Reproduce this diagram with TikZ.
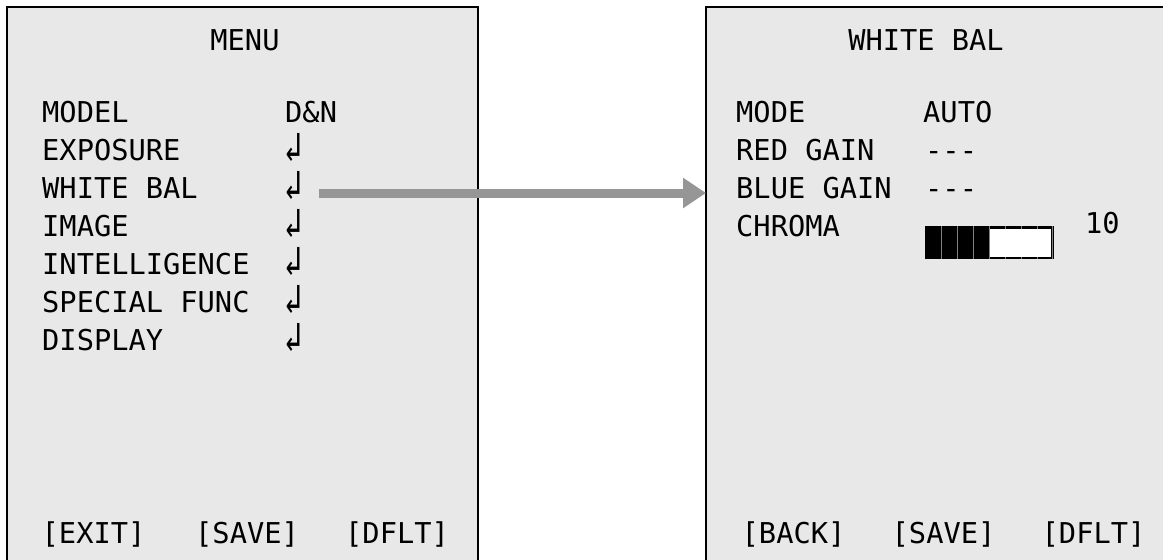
\documentclass[tikz,border=0pt]{standalone}
\usepackage{fontspec}
\setmonofont{DejaVu Sans Mono}
\newfontfamily\symfont{DejaVu Sans Mono}
\usetikzlibrary{arrows.meta}
\definecolor{panelgray}{RGB}{232,232,232}
\definecolor{arrowgray}{RGB}{150,150,150}
\newcommand{\entersym}{\smash{\scalebox{1.05}[1.45]{↲}}}
\begin{document}
\begin{tikzpicture}[x=1pt,y=-1pt,
  panel/.style={draw=black, line width=2.8pt, fill=panelgray},
  txt/.style={anchor=base west, inner sep=0pt, font=\ttfamily\fontsize{28.7}{34}\selectfont},
  ttl/.style={anchor=base, inner sep=0pt, font=\ttfamily\fontsize{28.7}{34}\selectfont},
  enter/.style={anchor=base west, inner sep=0pt, font=\symfont\fontsize{28.7}{34}\selectfont},
  link/.style={draw=arrowgray, line width=9pt, -{Triangle[length=23pt, width=29pt]}}]
\useasboundingbox (0,0) rectangle (1163,560);
\clip (0,0) rectangle (1163,560);
\fill[white] (0,0) rectangle (1163,560);
% panels
\draw[panel] (7,7) rectangle (478,580);
\draw[panel] (706,7) rectangle (1166,580);
\coordinate (rpanel) at (706,193);
% left panel
\node[ttl] (menu) at (245,50) {MENU};
\node[txt] (l1) at (42,122) {MODEL};
\node[txt] (v1) at (285,122) {D\&N};
\foreach \t/\y/\n in {EXPOSURE/160/2, WHITE BAL/198/3, IMAGE/236/4, INTELLIGENCE/274/5, SPECIAL FUNC/312/6, DISPLAY/350/7}{
  \node[txt] (l\n) at (42,\y) {\t};
  \node[enter] (v\n) at (284,\y+1) {\entersym};
}
\node[txt] (exit) at (41.5,543) {[EXIT]};
\node[txt] (lsave) at (195,543) {[SAVE]};
\node[txt] (ldflt) at (345,543) {[DFLT]};
% right panel
\node[ttl] (wbt) at (926,50) {WHITE BAL};
\node[txt] (r1) at (736,122) {MODE};
\node[txt] (s1) at (923,122) {AUTO};
\node[txt] (r2) at (736,160) {RED GAIN};
\node[txt] (s2) at (925,160) {-{}-{}-};
\node[txt] (r3) at (736,198) {BLUE GAIN};
\node[txt] (s3) at (925,198) {-{}-{}-};
\node[txt] (r4) at (736,236) {CHROMA};
\node[txt] (s4) at (1085,233) {10};
\node[txt] (back) at (741.5,543) {[BACK]};
\node[txt] (rsave) at (891.5,543) {[SAVE]};
\node[txt] (rdflt) at (1041.5,543) {[DFLT]};
% chroma bar
\draw[black, line width=2.5pt, fill=white] (989,227.25) rectangle (1052.25,257.75);
\draw[gray, line width=1pt] (1052.5,226) -- (1052.5,259);
\fill[black] (925,226) rectangle (989,259);
\foreach \x in {941,957,973,989}
  \draw[gray, line width=1pt] (\x,226) -- (\x,259);
\foreach \x in {1005,1021,1037}{
  \draw[gray, line width=1pt] (\x,226) -- (\x,228.5);
  \draw[gray, line width=1pt] (\x,256.5) -- (\x,259);
}
% arrow
\coordinate (astart) at (319,193);
\draw[link] (astart) -- (rpanel);
\end{tikzpicture}
\end{document}
